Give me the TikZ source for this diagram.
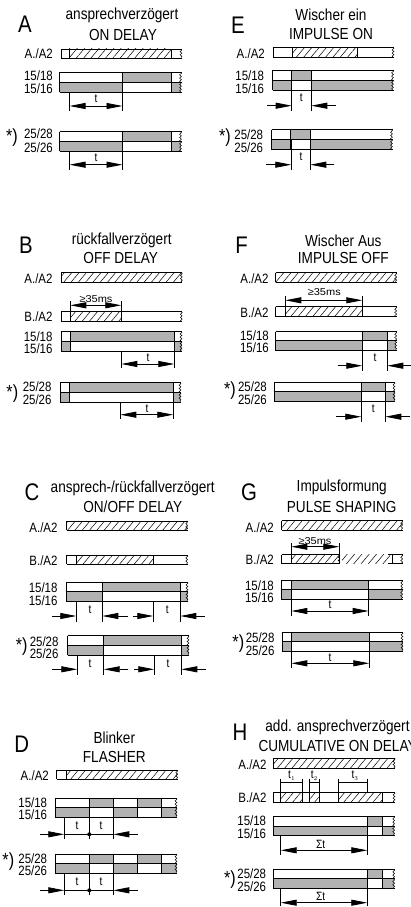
\documentclass[tikz,border=0pt]{standalone}
\usepackage{fontspec}
\setmainfont[FakeStretch=0.85]{Liberation Sans}
\newfontfamily\widefont[FakeStretch=1.1]{Liberation Sans}
\usetikzlibrary{arrows.meta,patterns.meta,decorations.pathmorphing}
\definecolor{relaygray}{HTML}{B2B2B2}
\tikzset{
	wire/.style={black,line width=0.9pt},
	brk/.style={black,line width=0.5pt,decorate,decoration={snake,amplitude=0.9pt,segment length=3.2pt}},
	hatchfill/.style={pattern={Lines[angle=50,distance=5.6pt,line width=0.5pt]}},
	dimline/.style={black,line width=0.8pt},
	dimtip/.style={dimline,-{Triangle[length=16pt,width=6pt]}},
	letter/.style={inner sep=0pt,font=\fontsize{24}{24}\selectfont},
	titletext/.style={inner sep=0pt,font=\fontsize{16}{16}\selectfont},
	rowlabel/.style={inner sep=0pt,anchor=east,font=\fontsize{13.5}{13.5}\selectfont},
	star/.style={inner sep=0pt,font=\fontsize{19}{19}\selectfont},
	timetext/.style={inner sep=0pt,font=\fontsize{12}{12}\selectfont},
	minitext/.style={inner sep=0pt,font=\widefont\fontsize{10}{10}\selectfont},
}
% control row: x0 x1 ytop ybottom hatched-parts verticals
\newcommand{\ctrlrow}[6]{
	\foreach \a/\b in {#5} \fill[hatchfill] (\a,#3) rectangle (\b,#4);
	\draw[wire] (#1,#3) -- (#2,#3) (#1,#4) -- (#2,#4);
	\foreach \v in {#6} \draw[wire] (\v,#3) -- (\v,#4);
	\draw[brk] (#2-1,#3) -- (#2-1,#4);
}
% contact pair: x0 x1 ytop ymid ybottom upper-gray lower-gray verticals
\newcommand{\contacts}[8]{
	\foreach \a/\b in {#6} \fill[relaygray] (\a,#3) rectangle (\b,#4);
	\foreach \a/\b in {#7} \fill[relaygray] (\a,#4) rectangle (\b,#5);
	\draw[wire] (#1,#3) -- (#2,#3) (#1,#4) -- (#2,#4) (#1,#5) -- (#2,#5);
	\foreach \v in {#8} \draw[wire] (\v,#3) -- (\v,#5);
	\draw[brk] (#2-1,#3) -- (#2-1,#5);
}
% time span, heads inside: xa xb ytop ybottom yarrow
\newcommand{\spanin}[5]{
	\draw[dimline] (#1,#3) -- (#1,#4) (#2,#3) -- (#2,#4);
	\draw[dimtip] (#1/2+#2/2,#5) -- (#1,#5);
	\draw[dimtip] (#1/2+#2/2,#5) -- (#2,#5);
}
% time span, heads outside: xa xb ytop ybottom yarrow xleft xright
\newcommand{\spanout}[7]{
	\draw[dimline] (#1,#3) -- (#1,#4) (#2,#3) -- (#2,#4);
	\draw[dimtip] (#6,#5) -- (#1,#5);
	\draw[dimtip] (#7,#5) -- (#2,#5);
}
\begin{document}
\begin{tikzpicture}[x=1pt,y=-1pt]
	\useasboundingbox (0,0) rectangle (411,907);
	% A
	\node[letter] (Aletter) at (25,24) {A};
	\node[titletext] (Atitle) at (122,15.5) {ansprechverzögert};
	\node[titletext] (Aen) at (123,35) {ON DELAY};
	\node[rowlabel] (Aa) at (53,54) {A./A2};
	\ctrlrow{61}{182}{49}{58.3}{69/171}{61,69,171}
	\node[rowlabel] (A15a) at (53,75.5) {15/18};
	\node[rowlabel] (A15b) at (53,89) {15/16};
	\contacts{59.5}{181.5}{72.3}{82.3}{92}{122.5/171}{59.5/122.5,171/181}{59.5,122.5,171}
	\spanin{69.5}{122.5}{92}{111}{106}
	\node[timetext] (At1) at (96,99) {t};
	\node[star] (Astar) at (12,138) {*)};
	\node[rowlabel] (A25a) at (53,133.5) {25/28};
	\node[rowlabel] (A25b) at (53,148) {25/26};
	\contacts{59.5}{181.5}{131.7}{141.3}{151.3}{122.5/171}{59.5/122.5,171/181}{59.5,122.5,171}
	\spanin{69.5}{122.5}{151.3}{170}{164.7}
	\node[timetext] (At2) at (96,158) {t};
	% E
	\node[letter] (Eletter) at (238,25) {E};
	\node[titletext] (Etitle) at (331,14.5) {Wischer ein};
	\node[titletext] (Een) at (331,34) {IMPULSE ON};
	\node[rowlabel] (Ea) at (265,53.5) {A./A2};
	\ctrlrow{273}{394}{47.3}{57.3}{292.3/357.3}{273,292.3,357.3}
	\node[rowlabel] (E15a) at (264.3,75.3) {15/18};
	\node[rowlabel] (E15b) at (264.3,88.3) {15/16};
	\contacts{272.7}{393.5}{70.3}{80.3}{90.3}{291.7/311.3}{272.7/291.7,311.3/393}{272.7,291.7,311.3}
	\spanout{291.7}{311.3}{80.3}{110.7}{105.7}{267.3}{335.7}
	\node[timetext] (Et1) at (301.3,97.3) {t};
	\node[star] (Estar) at (225,138) {*)};
	\node[rowlabel] (E25a) at (263.3,134.3) {25/28};
	\node[rowlabel] (E25b) at (263.3,147.7) {25/26};
	\contacts{271.7}{392.5}{129.7}{139.7}{149.7}{290.7/310.3}{271.7/290.7,310.3/392}{271.7,290.7,310.3}
	\spanout{291.3}{310.3}{139.7}{170.3}{164.7}{266}{334.3}
	\node[timetext] (Et2) at (301,156.7) {t};
	% B
	\node[letter] (Bletter) at (26,245.7) {B};
	\node[titletext] (Btitle) at (121.7,240.8) {rückfallverzögert};
	\node[titletext] (Ben) at (120.7,258.3) {OFF DELAY};
	\node[rowlabel] (Ba) at (52.7,278.3) {A./A2};
	\ctrlrow{61.3}{182.3}{272.7}{282.3}{61.3/182.3}{61.3}
	\node[minitext] (Bmin) at (96,298.7) {≥35ms};
	\spanin{70.3}{121.3}{301.3}{321.7}{305.3}
	\node[rowlabel] (Bb) at (52.7,317) {B./A2};
	\ctrlrow{61.3}{182.3}{311.7}{321.7}{70.3/121.3}{61.3,70.3,121.3}
	\node[rowlabel] (B15a) at (52.7,336.7) {15/18};
	\node[rowlabel] (B15b) at (52.7,349) {15/16};
	\contacts{61.3}{182}{331.3}{341.3}{351}{70.3/174.3}{61.3/70.3,174.3/181.5}{61.3,70.3,174.3}
	\spanin{121.3}{174.3}{351}{368.3}{364}
	\node[timetext] (Bt1) at (148,357.7) {t};
	\node[star] (Bstar) at (12.3,394) {*)};
	\node[rowlabel] (B25a) at (51.7,386.7) {25/28};
	\node[rowlabel] (B25b) at (51.7,399.7) {25/26};
	\contacts{60}{181}{382.7}{392.3}{402}{69.3/173.3}{60/69.3,173.3/180.5}{60,69.3,173.3}
	\spanin{120.3}{173.3}{402}{419.3}{414.7}
	\node[timetext] (Bt2) at (147,408.3) {t};
	% F
	\node[letter] (Fletter) at (241.7,245.7) {F};
	\node[titletext] (Ftitle) at (343.3,240.5) {Wischer Aus};
	\node[titletext] (Fen) at (343.3,258.3) {IMPULSE OFF};
	\node[rowlabel] (Fa) at (268.7,278.3) {A./A2};
	\ctrlrow{275.7}{396.7}{272.7}{282.3}{275.7/396.7}{275.7}
	\node[minitext] (Fmin) at (324.3,292.3) {≥35ms};
	\spanin{285.3}{362.3}{295.7}{316.7}{300.3}
	\node[rowlabel] (Fb) at (268.7,312.7) {B./A2};
	\ctrlrow{275.7}{396.7}{306.7}{316.7}{285.3/362.3}{275.7,285.3,362.3}
	\node[rowlabel] (F15a) at (269,335.7) {15/18};
	\node[rowlabel] (F15b) at (269,347.7) {15/16};
	\contacts{275.7}{396.7}{331.7}{340.7}{350.7}{362.3/387.3}{275.7/362.3,387.3/396}{275.7,362.3,387.3}
	\spanout{362.3}{387.3}{340.7}{371}{365.7}{337.7}{411}
	\node[timetext] (Ft1) at (375,357.7) {t};
	\node[star] (Fstar) at (230,390.5) {*)};
	\node[rowlabel] (F25a) at (267,386.3) {25/28};
	\node[rowlabel] (F25b) at (267,399.7) {25/26};
	\contacts{274}{395}{382.3}{391.3}{401.3}{361.3/385.3}{274/361.3,385.3/394.5}{274,361.3,385.3}
	\spanout{361.3}{385.3}{391.3}{421.7}{416.7}{336}{409.7}
	\node[timetext] (Ft2) at (373.3,408.3) {t};
	% C
	\node[letter] (Cletter) at (32,492.7) {C};
	\node[titletext] (Ctitle) at (132.7,488.2) {ansprech-/rückfallverzögert};
	\node[titletext] (Cen) at (132.7,506.7) {ON/OFF DELAY};
	\node[rowlabel] (Ca) at (57.7,527.3) {A./A2};
	\ctrlrow{66.7}{187.7}{521}{530.3}{66.7/187.7}{66.7}
	\node[rowlabel] (Cb) at (57.7,561) {B./A2};
	\ctrlrow{66.7}{187.7}{555.3}{564.3}{76.3/153.3}{66.7,76.3,153.3}
	\node[rowlabel] (C15a) at (57.7,587.3) {15/18};
	\node[rowlabel] (C15b) at (57.7,600.3) {15/16};
	\contacts{66.3}{188}{582.3}{591.7}{601.7}{102.3/180.3}{66.3/102.3,180.3/187.5}{66.3,102.3,180.3}
	\spanout{76.3}{102.3}{601.7}{621.7}{616}{52.3}{127.7}
	\spanout{153.3}{180.3}{601.7}{621.7}{616}{133}{205}
	\node[timetext] (Ct1) at (90,609.3) {t};
	\node[timetext] (Ct2) at (167.3,609.3) {t};
	\node[star] (Cstar) at (21.7,647) {*)};
	\node[rowlabel] (C25a) at (58.7,641.3) {25/28};
	\node[rowlabel] (C25b) at (58.7,653.3) {25/26};
	\contacts{67.7}{189}{635.7}{645.3}{655}{103.7/181.3}{67.7/103.7,181.3/188.5}{67.7,103.7,181.3}
	\spanout{77.3}{103.7}{655}{675}{669.3}{52.3}{128}
	\spanout{154.3}{181.3}{655}{675}{669.3}{134}{206}
	\node[timetext] (Ct3) at (90,663.3) {t};
	\node[timetext] (Ct4) at (168,663.3) {t};
	% G
	\node[letter] (Gletter) at (249,492.7) {G};
	\node[titletext] (Gtitle) at (341.7,487.2) {Impulsformung};
	\node[titletext] (Gen) at (341.7,506.7) {PULSE SHAPING};
	\node[rowlabel] (Ga) at (274,527.3) {A./A2};
	\ctrlrow{281.7}{402.7}{520.7}{530.3}{281.7/402.7}{281.7}
	\node[minitext] (Gmin) at (315,541) {≥35ms};
	\spanin{291.3}{339.3}{543.3}{563.7}{546.7}
	\node[rowlabel] (Gb) at (274,559.3) {B./A2};
	\ctrlrow{281.7}{340}{554.7}{563.7}{291.3/339.3}{281.7,291.3,339.3}
	\ctrlrow{388}{402.7}{554.7}{563.7}{}{392}
	\fill[hatchfill] (342,554.7) rectangle (390,563.7);
	\node[rowlabel] (G15a) at (274,585.7) {15/18};
	\node[rowlabel] (G15b) at (274,597.7) {15/16};
	\contacts{281.3}{402.7}{580.3}{589.3}{599.3}{291.3/368.7}{281.3/291.3,368.7/402}{281.3,291.3,368.7}
	\spanin{291.3}{368.7}{599.3}{615.7}{611}
	\node[timetext] (Gt1) at (330,605) {t};
	\node[star] (Gstar) at (238.3,643.3) {*)};
	\node[rowlabel] (G25a) at (274.7,637.7) {25/28};
	\node[rowlabel] (G25b) at (274.7,651) {25/26};
	\contacts{282.3}{403}{632.3}{641.3}{651.3}{291.3/369.3}{282.3/291.3,369.3/402.5}{282.3,291.3,369.3}
	\spanin{291.3}{369.3}{651.3}{668.3}{663.3}
	\node[timetext] (Gt2) at (330,657.3) {t};
	% D
	\node[letter] (Dletter) at (21.7,744.3) {D};
	\node[titletext] (Dtitle) at (114.3,737.3) {Blinker};
	\node[titletext] (Den) at (114.3,757.3) {FLASHER};
	\node[rowlabel] (Da) at (49,775.7) {A./A2};
	\ctrlrow{56.7}{177.7}{770}{779.3}{66.3/177.7}{56.7,66.3}
	\node[rowlabel] (D15a) at (47.3,802.3) {15/18};
	\node[rowlabel] (D15b) at (47.3,814.7) {15/16};
	\contacts{55.3}{177}{798.3}{807.7}{817.3}{89.3/113.3,137.3/161.3}{55.3/89.3,113.3/137.3,161.3/176.5}{55.3,89.3,113.3,137.3,161.3}
	\spanout{64.3}{113.3}{817.3}{839.3}{834.3}{40}{137.7}
	\draw[dimline] (89.3,817.3) -- (89.3,839.3) (64.3,834.3) -- (113.3,834.3);
	\fill[black] (89.3,834.3) circle (2);
	\node[timetext] (Dt1) at (77,826) {t};
	\node[timetext] (Dt2) at (101,826) {t};
	\node[star] (Dstar) at (8.3,862) {*)};
	\node[rowlabel] (D25a) at (47.3,858.3) {25/28};
	\node[rowlabel] (D25b) at (47.3,871) {25/26};
	\contacts{55.3}{177}{854}{863.3}{873.3}{89.3/113.3,137.3/161.3}{55.3/89.3,113.3/137.3,161.3/176.5}{55.3,89.3,113.3,137.3,161.3}
	\spanout{64.3}{113.3}{873.3}{895.3}{890.3}{40}{137.7}
	\draw[dimline] (89.3,873.3) -- (89.3,895.3) (64.3,890.3) -- (113.3,890.3);
	\fill[black] (89.3,890.3) circle (2);
	\node[timetext] (Dt3) at (77,882) {t};
	\node[timetext] (Dt4) at (101,882) {t};
	% H
	\node[letter] (Hletter) at (240,732.7) {H};
	\node[titletext] (Htitle) at (337.5,727.2) {add. ansprechverzögert};
	\node[titletext,anchor=west] (Hen) at (258.3,745.7) {CUMULATIVE ON DELAY};
	\node[rowlabel] (Ha) at (266.7,764.3) {A./A2};
	\ctrlrow{273.3}{395}{758.7}{768.3}{273.3/395}{273.3}
	\node[timetext] (Ht1) at (291.7,776) {t$_{\scriptscriptstyle 1}$};
	\node[timetext] (Ht2) at (314.3,776) {t$_{\scriptscriptstyle 2}$};
	\node[timetext] (Ht3) at (355,776) {t$_{\scriptscriptstyle 3}$};
	\draw[dimline] (280.7,778.7) -- (280.7,792.3) (302.3,778.7) -- (302.3,792.3) (280.7,782.3) -- (302.3,782.3);
	\draw[dimline] (309.7,778.7) -- (309.7,792.3) (319.7,778.7) -- (319.7,792.3) (309.7,782.3) -- (319.7,782.3);
	\draw[dimline] (338.7,778.7) -- (338.7,792.3) (367.3,778.7) -- (367.3,792.3) (338.7,782.3) -- (367.3,782.3);
	\node[rowlabel] (Hb) at (266.7,797.3) {B./A2};
	\ctrlrow{273.3}{395}{792.3}{802.3}{280.7/302.3,309.7/319.7,338.7/382.3}{273.3,280.7,302.3,309.7,319.7,338.7,382.3}
	\node[rowlabel] (H15a) at (266.3,821) {15/18};
	\node[rowlabel] (H15b) at (266.3,833.3) {15/16};
	\contacts{273.3}{394.7}{816.3}{826.3}{835.7}{367.3/382.7}{273.3/367.3,382.7/394}{273.3,367.3,382.7}
	\spanin{280.7}{367.3}{835.7}{855.3}{850.3}
	\node[timetext] (Ht4) at (320.7,844) {Σt};
	\node[star] (Hstar) at (230,880) {*)};
	\node[rowlabel] (H25a) at (266.3,873.3) {25/28};
	\node[rowlabel] (H25b) at (266.3,886.7) {25/26};
	\contacts{273.3}{394.7}{869.3}{878.3}{888.3}{367.3/382.7}{273.3/367.3,382.7/394}{273.3,367.3,382.7}
	\spanin{280.7}{367.3}{888.3}{906}{902.7}
	\node[timetext] (Ht5) at (320.7,896.7) {Σt};
\end{tikzpicture}
\end{document}
